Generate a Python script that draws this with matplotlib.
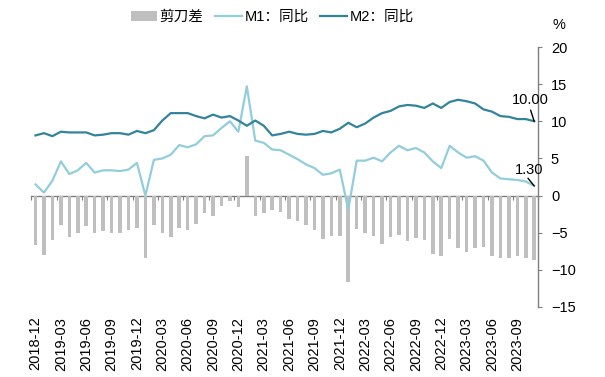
import numpy as np
import pandas as pd
import matplotlib
matplotlib.use("Agg")
import matplotlib.pyplot as plt

plt.rcParams["font.family"] = ["Liberation Sans", "Noto Sans CJK SC", "DejaVu Sans"]

# monthly data, 2018-12 .. 2023-11
months = [str(p) for p in pd.period_range("2018-12", "2023-11", freq="M")]

m1_yoy = [1.5, 0.4, 2.0, 4.6, 2.9, 3.4, 4.4, 3.1, 3.4, 3.4, 3.3, 3.5,
          4.4, 0.0, 4.8, 5.0, 5.5, 6.8, 6.5, 6.9, 8.0, 8.1, 9.1, 10.0,
          8.6, 14.7, 7.4, 7.1, 6.2, 6.1, 5.5, 4.9, 4.2, 3.7, 2.8, 3.0,
          3.5, -1.9, 4.7, 4.7, 5.1, 4.6, 5.8, 6.7, 6.1, 6.4, 5.8, 4.6,
          3.7, 6.7, 5.8, 5.1, 5.3, 4.7, 3.1, 2.3, 2.2, 2.1, 1.9, 1.3]

m2_yoy = [8.1, 8.4, 8.0, 8.6, 8.5, 8.5, 8.5, 8.1, 8.2, 8.4, 8.4, 8.2,
          8.7, 8.4, 8.8, 10.1, 11.1, 11.1, 11.1, 10.7, 10.4, 10.9, 10.5, 10.7,
          10.1, 9.4, 10.1, 9.4, 8.1, 8.3, 8.6, 8.3, 8.2, 8.3, 8.7, 8.5,
          9.0, 9.8, 9.2, 9.7, 10.5, 11.1, 11.4, 12.0, 12.2, 12.1, 11.8, 12.4,
          11.8, 12.6, 12.9, 12.7, 12.4, 11.6, 11.3, 10.7, 10.6, 10.3, 10.3, 10.0]

# M1 - M2 scissors gap
gap = [-6.6, -8.0, -6.0, -4.0, -5.6, -5.1, -4.1, -5.0, -4.8, -5.0, -5.1, -4.7,
       -4.3, -8.4, -4.0, -5.1, -5.6, -4.3, -4.6, -3.8, -2.4, -2.8, -1.4, -0.7,
       -1.5, 5.3, -2.7, -2.3, -1.9, -2.2, -3.1, -3.4, -4.0, -4.6, -5.9, -5.5,
       -5.5, -11.7, -4.5, -5.0, -5.4, -6.5, -5.6, -5.3, -6.1, -5.7, -6.0, -7.8,
       -8.1, -5.9, -7.1, -7.6, -7.1, -6.9, -8.2, -8.4, -8.4, -8.2, -8.4, -8.7]

GRAY = "#BFBFBF"
M1_COLOR = "#92CDDC"
M2_COLOR = "#31849B"
AXIS_COLOR = "#7F7F7F"

fig = plt.figure(figsize=(6.05, 3.77), dpi=100)
ax = fig.add_axes([0.0517, 0.1857, 0.8383, 0.6896])

x = np.arange(len(months))
bars = ax.bar(x, gap, width=0.42, color=GRAY, label="剪刀差", zorder=2)
l1, = ax.plot(x, m1_yoy, color=M1_COLOR, lw=1.6, label="M1：同比", zorder=3)
l2, = ax.plot(x, m2_yoy, color=M2_COLOR, lw=1.6, label="M2：同比", zorder=3)

ax.set_xlim(-0.5, len(months) - 0.5)
ax.set_ylim(-15, 20)

# y axis on the right
ax.yaxis.tick_right()
ax.set_yticks(range(-15, 21, 5))
ax.tick_params(axis="y", direction="out", length=3, width=0.8, color=AXIS_COLOR,
               pad=6, labelsize=10.5)
for s in ["left", "bottom"]:
    ax.spines[s].set_visible(False)
ax.spines["right"].set_color(AXIS_COLOR)
ax.spines["right"].set_linewidth(1.0)

# zero line with ticks (top spine moved to y=0), labels at bottom
ax.spines["top"].set_position(("data", 0))
ax.spines["top"].set_color(AXIS_COLOR)
ax.spines["top"].set_linewidth(1.0)
ax.spines["top"].set_zorder(1)
ax.set_xticks(x[::3])
ax.set_xticklabels(months[::3], rotation=90, fontsize=10.5)
ax.set_xticks(np.arange(-0.5, len(months), 3), minor=True)
ax.tick_params(axis="x", which="major", bottom=True, top=False, length=0, pad=7)
ax.tick_params(axis="x", which="minor", bottom=False, top=True, direction="in",
               length=3, width=0.8, color=AXIS_COLOR)

ax.text(1.04, 1.085, "%", transform=ax.transAxes, fontsize=10.5, ha="center", va="center")

# end-point labels with short leader lines
last = len(months) - 1
ax.annotate("", xy=(last, m2_yoy[-1]), xytext=(-2.6, 8), textcoords="offset points",
            arrowprops=dict(arrowstyle="-", color="black", lw=1.0, shrinkA=0, shrinkB=0),
            zorder=5)
ax.annotate(f"{m2_yoy[-1]:.2f}", xy=(last, m2_yoy[-1]), xytext=(-2.5, 15),
            textcoords="offset points", ha="center", va="center", fontsize=10.5)
ax.annotate("", xy=(last, m1_yoy[-1]), xytext=(-4.5, 5.5), textcoords="offset points",
            arrowprops=dict(arrowstyle="-", color="black", lw=1.0, shrinkA=0, shrinkB=0),
            zorder=5)
ax.annotate(f"{m1_yoy[-1]:.2f}", xy=(last, m1_yoy[-1]), xytext=(-4, 11.5),
            textcoords="offset points", ha="center", va="center", fontsize=10.5)

fig.legend(handles=[bars, l1, l2], loc="center", bbox_to_anchor=(0.45, 0.955), ncol=3,
           frameon=False, fontsize=10.5, handlelength=1.8, handletextpad=0.2,
           columnspacing=0.8)

fig.savefig("out.png", dpi=100)
